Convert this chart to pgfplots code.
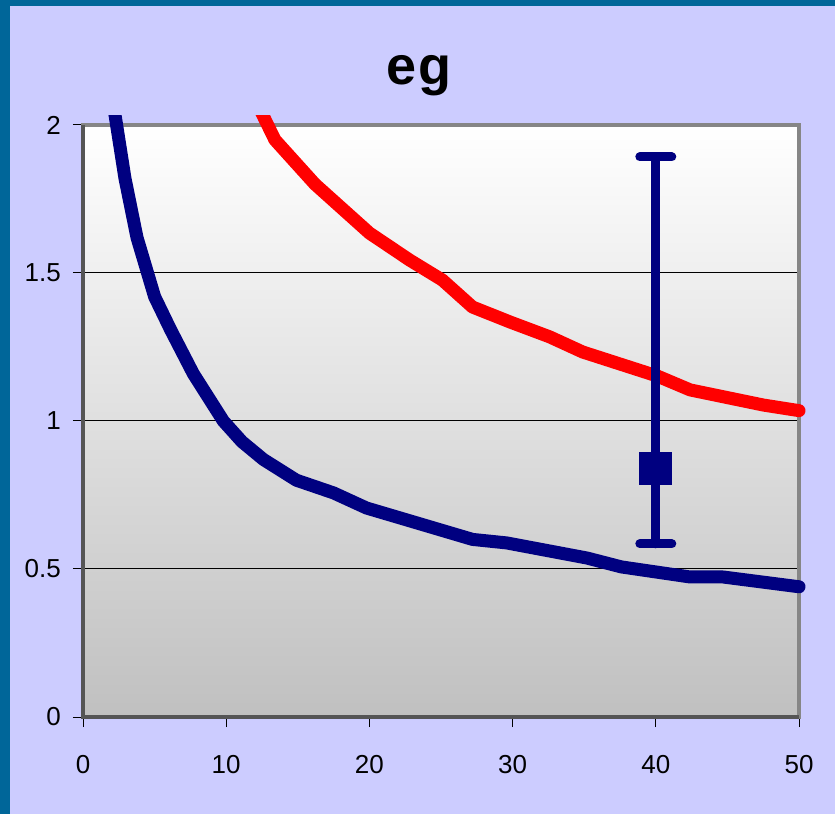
\documentclass[border=0pt]{standalone}
\usepackage{fontspec}
\setmainfont{Liberation Sans}
\usepackage{pgfplots}
\pgfplotsset{compat=1.18}
\definecolor{bordercol}{HTML}{006699}
\definecolor{bgcol}{HTML}{CCCCFF}
\definecolor{navyc}{HTML}{000080}
\definecolor{framegray}{HTML}{868686}
\definecolor{framedark}{HTML}{555555}
\definecolor{plotbottom}{HTML}{C0C0C0}
\definecolor{plotmid}{HTML}{E3E3E3}
\begin{document}
\begin{tikzpicture}
\useasboundingbox (0pt,0pt) rectangle (835pt,814pt);
\fill[bordercol] (0pt,0pt) rectangle (835pt,814pt);
\fill[bgcol] (10pt,0pt) rectangle (835pt,808pt);
\node[font=\fontsize{54}{60}\selectfont\bfseries, anchor=base, inner sep=0pt] at (419pt,729pt) {e\kern2pt g};
\begin{scope}
\clip (0pt,0pt) rectangle (835pt,698pt);
\begin{axis}[
  at={(83pt,97pt)}, anchor=south west, scale only axis,
  width=716pt, height=592pt,
  xmin=0, xmax=50, ymin=0, ymax=2, clip=false,
  axis background/.style={top color=white, middle color=plotmid, bottom color=plotbottom},
  axis line style={draw=framegray, line width=4pt},
  xtick={0,10,...,50}, ytick={0,0.5,1,1.5,2},
  tick align=outside, xtick pos=bottom, ytick pos=left,
  major tick length=10pt,
  tick style={black, line width=1pt},
  ymajorgrids, major grid style={black, line width=1pt},
  ticklabel style={font=\fontsize{26}{30}\selectfont, inner sep=0pt},
  /pgf/number format/assume math mode=true,
  yticklabel style={xshift=-12pt},
  xticklabel style={yshift=-28pt},
]
\draw[framedark, line width=4pt] (rel axis cs:0,1) -- (rel axis cs:0,0) -- (rel axis cs:1,0);
\addplot[navyc, line width=13pt, line join=round, line cap=round] coordinates {
(2.12,2.07) (2.93,1.82) (3.77,1.62) (5.0,1.42) (6.1,1.31) (7.7,1.16) (9.8,1.00)
(11.1,0.93) (12.6,0.87) (14.9,0.80) (17.5,0.757) (19.8,0.706) (23.5,0.653)
(27.2,0.60) (29.6,0.588) (35.2,0.537) (37.6,0.507) (42.4,0.473) (44.7,0.473) (50,0.44)
};
\addplot[red, line width=13pt, line join=round, line cap=round] coordinates {
(12.19,2.07) (13.4,1.95) (16.2,1.80) (20.0,1.635) (22.8,1.544) (25.1,1.476)
(27.2,1.385) (29.9,1.333) (32.6,1.284) (34.9,1.233) (40.1,1.152) (42.4,1.105)
(47.5,1.054) (50,1.035)
};
\addplot[navyc, only marks, mark=square*, mark size=16pt, mark options={solid, line width=0pt},
  error bars/.cd, y dir=both, y explicit,
  error bar style={line width=9pt, line cap=round, navyc},
  error mark options={rotate=90, line width=9pt, mark size=16pt, line cap=round, navyc}]
  coordinates {(40,0.84) += (0,1.052) -= (0,0.255)};
\end{axis}
\end{scope}
\end{tikzpicture}
\end{document}
